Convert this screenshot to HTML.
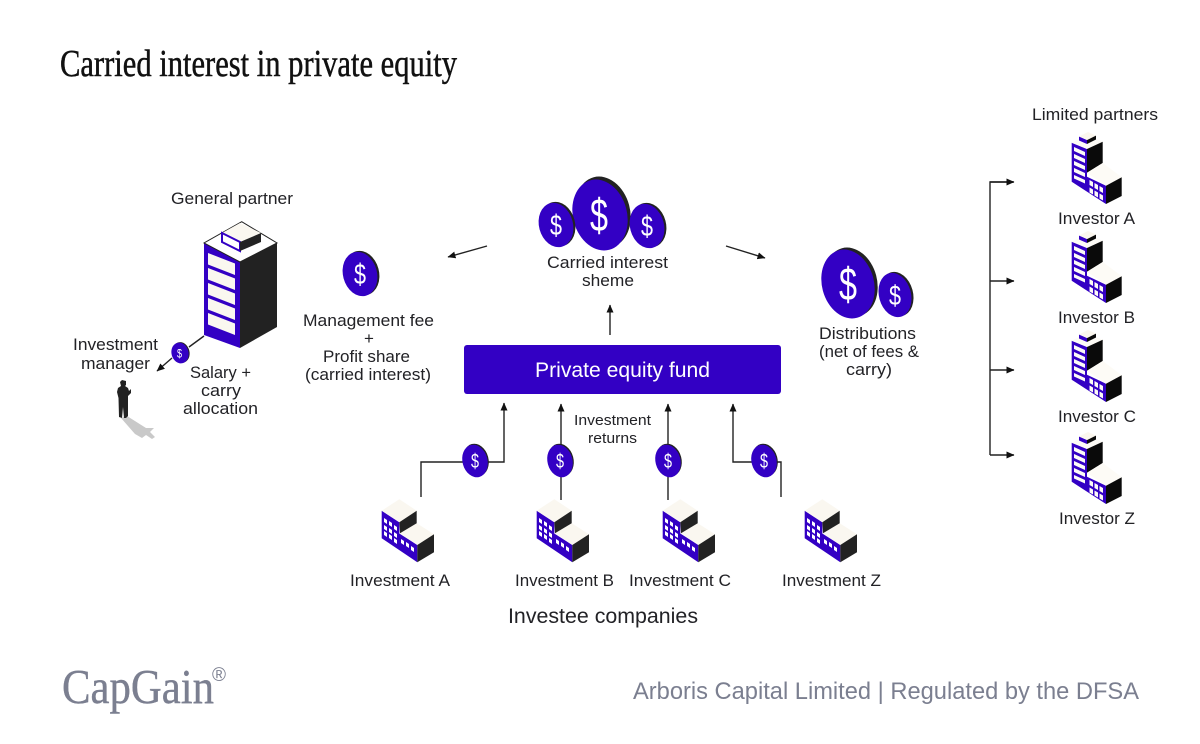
<!DOCTYPE html>
<html><head><meta charset="utf-8"><style>
html,body{margin:0;padding:0;background:#fff;width:1200px;height:744px;overflow:hidden}
svg{display:block}
text{font-family:"Liberation Sans",sans-serif;fill:#222226;font-size:17px}
.f{stroke:#222;stroke-width:1.4;fill:none}
.d{fill:#fff;text-anchor:middle}
</style></head><body>
<svg width="1200" height="744" viewBox="0 0 1200 744" xmlns="http://www.w3.org/2000/svg">
<defs>
<marker id="a" markerWidth="8" markerHeight="7" refX="7.500" refY="3.500" orient="auto" markerUnits="userSpaceOnUse"><path d="M0 0L8 3.500L0 7Z" fill="#111"/></marker>
<g id="co">
<path d="M381.7 510.7L399.3 522.3V533.5L417.3 545V562.3L381.7 538.3Z" fill="#3300c4"/>
<path d="M399.3 499.3L416.7 510.7L399.3 522.3L381.7 510.7Z" fill="#faf7f0"/>
<path d="M400 533.3L416.7 523.3L434 534.3L417.3 545Z" fill="#faf7f0"/>
<path d="M399.3 522.3L416.7 510.7V523.3L400 533.3Z" fill="#222"/>
<path d="M417.3 545L434 534.3V552.3L417.3 562.3Z" fill="#222"/>
<g fill="#fff"><path d="M384 518l3 2v4l-3-2zM389 521l3 2v4l-3-2zM394 525l3 2v4l-3-2zM384 525l3 2v4l-3-2zM389 528l3 2v4l-3-2zM394 532l3 2v4l-3-2zM384 531l3 2v4l-3-2zM389 534l3 2v4l-3-2zM394 538l3 2v4l-3-2zM401 539l3 2v4l-3-2zM406 542l3 2v4l-3-2zM411 546l3 2v4l-3-2z"/></g>
</g>
<g id="inv">
<path d="M1071.7 142.7L1087 149V176.7L1106 185.7V204L1071.7 181.7Z" fill="#3300c4"/>
<path d="M1071.7 142.7L1087 135L1102.7 141.7L1087 149Z" fill="#fdfbf6"/>
<path d="M1087 149L1102.7 141.7V163L1087 172.7Z" fill="#0a0a0a"/>
<path d="M1087 172.7L1102.7 163L1121.7 177.3L1106 185.7Z" fill="#fdfbf6"/>
<path d="M1106 185.7L1121.7 177.3V196L1106 204Z" fill="#0a0a0a"/>
<path d="M1079 136.5L1087 140V144L1079 140.5Z" fill="#3300c4"/>
<path d="M1087 140L1096 135.500V139.500L1087 144Z" fill="#0a0a0a"/>
<path d="M1079 136.5L1088 132L1096 135.500L1087 140Z" fill="#fbf7ee"/>
<g fill="#fdfbf6"><path d="M1074 147l11 5v4l-11-5zM1074 154l11 5v4l-11-5zM1074 161l11 5v4l-11-5zM1074 168l11 5v4l-11-5zM1074 175l11 5v3.500l-11-5z"/>
<path d="M1089.500 180l3.500 2v5l-3.500-2zM1094.500 183l3.500 2v5l-3.500-2zM1099.500 186l3.500 2v5l-3.500-2zM1089.500 187.500l3.500 2v5l-3.500-2zM1094.500 190.500l3.500 2v5l-3.500-2zM1099.500 193.500l3.500 2v5l-3.500-2z"/></g>
</g>
</defs>

<text x="60" y="76" textLength="397" lengthAdjust="spacingAndGlyphs" style="font-family:'Liberation Serif',serif;font-size:38px;fill:#111;stroke:#111;stroke-width:.5">Carried interest in private equity</text>

<!-- connectors -->
<path class="f" marker-end="url(#a)" d="M610 335V305"/>
<path class="f" marker-end="url(#a)" d="M487 246L448 257"/>
<path class="f" marker-end="url(#a)" d="M726 246L765 258"/>
<path class="f" marker-end="url(#a)" d="M421 497V462H504V403"/>
<path class="f" marker-end="url(#a)" d="M561 500V404"/>
<path class="f" marker-end="url(#a)" d="M668 500V404"/>
<path class="f" marker-end="url(#a)" d="M781 497V462H733V404"/>
<path class="f" d="M1013 182H990V455"/>
<path class="f" marker-end="url(#a)" d="M990 182H1014"/>
<path class="f" marker-end="url(#a)" d="M990 281H1014"/>
<path class="f" marker-end="url(#a)" d="M990 370H1014"/>
<path class="f" marker-end="url(#a)" d="M990 455H1014"/>
<path class="f" d="M204 336L189 347"/>
<path class="f" marker-end="url(#a)" d="M172 358L157 371"/>

<!-- coins -->
<ellipse cx="603" cy="212" rx="27" ry="36" fill="#222" transform="rotate(-15 603 212)"/><ellipse cx="600" cy="215" rx="27" ry="36" fill="#3300c4" transform="rotate(-15 600 215)"/>
<ellipse cx="558" cy="224" rx="17" ry="22.500" fill="#222" transform="rotate(-15 558 224)"/><ellipse cx="556" cy="225" rx="17" ry="22.500" fill="#3300c4" transform="rotate(-15 556 225)"/>
<ellipse cx="649" cy="225" rx="17" ry="22.500" fill="#222" transform="rotate(-15 649 225)"/><ellipse cx="647" cy="226" rx="17" ry="22.500" fill="#3300c4" transform="rotate(-15 647 226)"/>
<text class="d" x="599" y="231" textLength="18" lengthAdjust="spacingAndGlyphs" style="font-size:46px">$</text>
<text class="d" x="556" y="235" textLength="12" lengthAdjust="spacingAndGlyphs" style="font-size:29px">$</text>
<text class="d" x="647" y="236" textLength="12" lengthAdjust="spacingAndGlyphs" style="font-size:29px">$</text>

<ellipse cx="362" cy="273" rx="17" ry="22.500" fill="#222" transform="rotate(-15 362 273)"/><ellipse cx="360" cy="274" rx="17" ry="22.500" fill="#3300c4" transform="rotate(-15 360 274)"/>
<text class="d" x="360" y="284" textLength="12" lengthAdjust="spacingAndGlyphs" style="font-size:29px">$</text>

<ellipse cx="851" cy="282" rx="26" ry="35" fill="#222" transform="rotate(-15 851 282)"/><ellipse cx="848" cy="284" rx="26" ry="35" fill="#3300c4" transform="rotate(-15 848 284)"/>
<ellipse cx="897" cy="294" rx="16" ry="22.500" fill="#222" transform="rotate(-15 897 294)"/><ellipse cx="895" cy="295" rx="16" ry="22.500" fill="#3300c4" transform="rotate(-15 895 295)"/>
<text class="d" x="848" y="300" textLength="18" lengthAdjust="spacingAndGlyphs" style="font-size:46px">$</text>
<text class="d" x="895" y="305" textLength="12" lengthAdjust="spacingAndGlyphs" style="font-size:28px">$</text>

<ellipse cx="476" cy="460" rx="12.500" ry="16.500" fill="#222" transform="rotate(-15 476 460)"/><ellipse cx="475" cy="461" rx="12.500" ry="16.500" fill="#3300c4" transform="rotate(-15 475 461)"/>
<text class="d" x="475" y="468" textLength="8" lengthAdjust="spacingAndGlyphs" style="font-size:20px">$</text>
<ellipse cx="561" cy="460" rx="12.500" ry="16.500" fill="#222" transform="rotate(-15 561 460)"/><ellipse cx="560" cy="461" rx="12.500" ry="16.500" fill="#3300c4" transform="rotate(-15 560 461)"/>
<text class="d" x="560" y="468" textLength="8" lengthAdjust="spacingAndGlyphs" style="font-size:20px">$</text>
<ellipse cx="669" cy="460" rx="12.500" ry="16.500" fill="#222" transform="rotate(-15 669 460)"/><ellipse cx="668" cy="461" rx="12.500" ry="16.500" fill="#3300c4" transform="rotate(-15 668 461)"/>
<text class="d" x="668" y="468" textLength="8" lengthAdjust="spacingAndGlyphs" style="font-size:20px">$</text>
<ellipse cx="765" cy="460" rx="12.500" ry="16.500" fill="#222" transform="rotate(-15 765 460)"/><ellipse cx="764" cy="461" rx="12.500" ry="16.500" fill="#3300c4" transform="rotate(-15 764 461)"/>
<text class="d" x="764" y="468" textLength="8" lengthAdjust="spacingAndGlyphs" style="font-size:20px">$</text>
<ellipse cx="181" cy="352.500" rx="8.500" ry="10.500" fill="#222" transform="rotate(-15 181 352.500)"/><ellipse cx="180" cy="353" rx="8.500" ry="10.500" fill="#3300c4" transform="rotate(-15 180 353)"/>
<text class="d" x="179.500" y="357.500" textLength="5" lengthAdjust="spacingAndGlyphs" style="font-size:12px">$</text>

<!-- GP building -->
<path d="M204 243L240 262V348L204 335Z" fill="#3300c4"/>
<path d="M240 262L277 243V327L240 348Z" fill="#222"/>
<path d="M241.700 221.700L277 243L240 262L204 243Z" fill="#fff" stroke="#222" stroke-width="1"/>
<g fill="#faf7f0">
<path d="M208 253L235 263.500V275L208 264.500Z"/><path d="M208 268L235 278.500V290L208 279.500Z"/><path d="M208 283L235 293.500V305L208 294.500Z"/><path d="M208 298L235 308.500V320L208 309.500Z"/><path d="M208 313L235 323.500V335L208 324.500Z"/>
</g>
<path d="M222 233L240 223L261 233L240 242Z" fill="#faf7f0"/>
<path d="M222 233L240 242V251L222 242Z" fill="#fff" stroke="#3300c4" stroke-width="2"/>
<path d="M240 242L261 233V242L240 251Z" fill="#222"/>

<!-- person -->
<path d="M121 418L127 416L146 428L154 428L150 432L155 437L152 439L146 435L142 438L135 434Z" fill="#c9c9c9"/>
<path d="M120 382L122 380L126 381L126 385L125 386L128 388L129 391L131 389L131 393L128 396V404L128 416L126 418L124 418L123 407L122 418L119 417L118.500 398L117 392L118 388L121 386Z" fill="#222"/>

<!-- buildings -->
<use href="#co"/><use href="#co" x="155"/><use href="#co" x="281"/><use href="#co" x="423"/>
<use href="#inv"/><use href="#inv" y="99"/><use href="#inv" y="198"/><use href="#inv" y="300"/>

<!-- fund -->
<rect x="464" y="345" width="317" height="49" rx="3" fill="#3300c4"/>
<text x="535" y="377" textLength="175" lengthAdjust="spacingAndGlyphs" style="font-size:21px;fill:#fff">Private equity fund</text>

<!-- labels -->
<text x="171" y="204" textLength="122" lengthAdjust="spacingAndGlyphs">General partner</text>
<text x="1032" y="120" textLength="126" lengthAdjust="spacingAndGlyphs">Limited partners</text>
<text x="1058" y="224" textLength="77" lengthAdjust="spacingAndGlyphs">Investor A</text>
<text x="1058" y="323" textLength="77" lengthAdjust="spacingAndGlyphs">Investor B</text>
<text x="1058" y="422" textLength="78" lengthAdjust="spacingAndGlyphs">Investor C</text>
<text x="1059" y="524" textLength="76" lengthAdjust="spacingAndGlyphs">Investor Z</text>
<text x="547" y="268" textLength="121" lengthAdjust="spacingAndGlyphs">Carried interest</text>
<text x="582" y="286" textLength="52" lengthAdjust="spacingAndGlyphs">sheme</text>
<text x="303" y="326" textLength="131" lengthAdjust="spacingAndGlyphs">Management fee</text>
<text x="364" y="344">+</text>
<text x="323" y="362" textLength="87" lengthAdjust="spacingAndGlyphs">Profit share</text>
<text x="305" y="380" textLength="126" lengthAdjust="spacingAndGlyphs">(carried interest)</text>
<text x="73" y="350" textLength="85" lengthAdjust="spacingAndGlyphs">Investment</text>
<text x="81" y="369" textLength="69" lengthAdjust="spacingAndGlyphs">manager</text>
<text x="190" y="378" textLength="61" lengthAdjust="spacingAndGlyphs">Salary +</text>
<text x="201" y="396" textLength="40" lengthAdjust="spacingAndGlyphs">carry</text>
<text x="183" y="414" textLength="75" lengthAdjust="spacingAndGlyphs">allocation</text>
<text x="574" y="425" textLength="77" lengthAdjust="spacingAndGlyphs" style="font-size:15px">Investment</text>
<text x="588" y="443" textLength="49" lengthAdjust="spacingAndGlyphs" style="font-size:15px">returns</text>
<text x="819" y="339" textLength="97" lengthAdjust="spacingAndGlyphs">Distributions</text>
<text x="819" y="357" textLength="100" lengthAdjust="spacingAndGlyphs">(net of fees &amp;</text>
<text x="846" y="375" textLength="46" lengthAdjust="spacingAndGlyphs">carry)</text>
<text x="350" y="586" textLength="100" lengthAdjust="spacingAndGlyphs">Investment A</text>
<text x="515" y="586" textLength="99" lengthAdjust="spacingAndGlyphs">Investment B</text>
<text x="629" y="586" textLength="102" lengthAdjust="spacingAndGlyphs">Investment C</text>
<text x="782" y="586" textLength="99" lengthAdjust="spacingAndGlyphs">Investment Z</text>
<text x="508" y="623" textLength="190" lengthAdjust="spacingAndGlyphs" style="font-size:21px">Investee companies</text>

<!-- footer -->
<text x="62" y="703" textLength="152" lengthAdjust="spacingAndGlyphs" style="font-family:'Liberation Serif',serif;font-size:49px;fill:#7b7f90;stroke:#7b7f90;stroke-width:.4">CapGain</text>
<text x="212" y="681" style="font-size:19px;fill:#7b7f90">®</text>
<text x="633" y="699" textLength="506" lengthAdjust="spacingAndGlyphs" style="font-size:24px;fill:#7b7f90">Arboris Capital Limited | Regulated by the DFSA</text>
</svg>
</body></html>
